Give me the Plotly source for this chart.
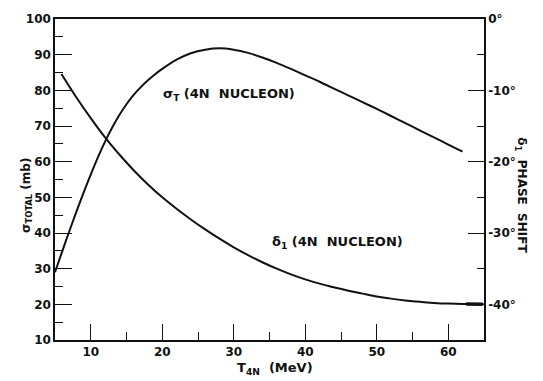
import plotly.graph_objects as go

# sigma_T (left axis, mb) vs T_4N (MeV)
t_sigma = [5, 6, 7, 8, 9, 10, 11, 12, 13, 14, 15, 16, 17, 18, 19, 20, 22, 24, 26, 28,
           30, 32, 34, 36, 38, 40, 42, 44, 46, 48, 50, 52, 54, 56, 58, 60, 62]
sigma_vals = [29.0, 34.8, 40.5, 46.0, 51.3, 56.4, 61.2, 65.6, 69.6, 73.1, 76.1, 78.7, 80.9,
              82.8, 84.5, 86.0, 88.6, 90.4, 91.4, 91.8, 91.4, 90.5, 89.2, 87.7, 86.0, 84.2,
              82.4, 80.5, 78.6, 76.7, 74.8, 72.8, 70.8, 68.8, 66.8, 64.8, 62.8]

# delta_1 phase shift (right axis, degrees)
t_delta = [5.9, 8, 10, 12, 14, 16, 18, 20, 22, 24, 26, 28, 30, 32, 34, 36, 38, 40, 42, 44,
           46, 48, 50, 52, 54, 56, 58, 60, 62, 65]
delta_vals = [-7.7, -11.0, -13.9, -16.6, -19.0, -21.2, -23.2, -25.0, -26.6, -28.1, -29.5,
              -30.8, -32.0, -33.1, -34.1, -35.0, -35.8, -36.5, -37.1, -37.6, -38.1, -38.5,
              -38.9, -39.2, -39.45, -39.65, -39.8, -39.9, -39.95, -40.0]

# short heavy stroke at the end of the delta curve
t_delta_end = [62.5, 64.8]
delta_end = [-39.95, -40.0]

x_major = [10, 20, 30, 40, 50, 60]
x_minor = [15, 25, 35, 45, 55]
yl_major = [10, 20, 30, 40, 50, 60, 70, 80, 90, 100]
yl_minor = [15, 25, 35, 45, 55, 65, 75, 85, 95]
yr_major = [0, -10, -20, -30, -40]
yr_labels = ["0°", "-10°", "-20°", "-30°", "-40°"]
yr_minor = [-5, -15, -25, -35]

FONT = "DejaVu Sans"
BLACK = "#111111"

fig = go.Figure()
fig.add_trace(go.Scatter(x=t_sigma, y=sigma_vals, mode="lines",
                         line=dict(color=BLACK, width=2, shape="spline", smoothing=0.8),
                         yaxis="y"))
fig.add_trace(go.Scatter(x=t_delta, y=delta_vals, mode="lines",
                         line=dict(color=BLACK, width=2, shape="spline", smoothing=0.8),
                         yaxis="y2"))
fig.add_trace(go.Scatter(x=t_delta_end, y=delta_end, mode="lines",
                         line=dict(color=BLACK, width=3.5), yaxis="y2"))

tick_font = dict(size=12, family=FONT, weight="bold", color=BLACK)

fig.update_layout(
    width=543, height=381,
    margin=dict(l=55, r=59, t=16, b=41),
    paper_bgcolor="white", plot_bgcolor="white",
    showlegend=False,
    font=dict(family=FONT, size=12, color=BLACK),
    xaxis=dict(range=[5, 65], tickmode="array", tickvals=x_major,
               ticks="inside", ticklen=16, tickwidth=1.3, tickcolor=BLACK,
               minor=dict(tickmode="array", tickvals=x_minor, ticks="inside",
                          ticklen=8, tickwidth=1.3, tickcolor=BLACK),
               showgrid=False, zeroline=False, showline=True, linecolor=BLACK,
               linewidth=1.5, mirror=True, tickfont=tick_font),
    yaxis=dict(range=[10, 100], tickmode="array", tickvals=yl_major,
               ticks="inside", ticklen=17, tickwidth=1.3, tickcolor=BLACK,
               minor=dict(tickmode="array", tickvals=yl_minor, ticks="inside",
                          ticklen=8, tickwidth=1.3, tickcolor=BLACK),
               showgrid=False, zeroline=False, showline=True, linecolor=BLACK,
               linewidth=1.5, tickfont=tick_font),
    yaxis2=dict(range=[-45, 0], overlaying="y", side="right", tickmode="array",
                tickvals=yr_major, ticktext=yr_labels,
                ticks="inside", ticklen=16, tickwidth=1.3, tickcolor=BLACK,
                minor=dict(tickmode="array", tickvals=yr_minor, ticks="inside",
                           ticklen=7, tickwidth=1.3, tickcolor=BLACK),
                showgrid=False, zeroline=False, showline=True, linecolor=BLACK,
                linewidth=1.5, tickfont=tick_font),
)

lab_font = dict(size=13, family=FONT, weight="bold", color=BLACK)
side_font = dict(size=12, family=FONT, weight="bold", color=BLACK)
fig.add_annotation(text="σ<sub>T</sub> (4N  NUCLEON)", x=29.3, y=78.9, xref="x", yref="y",
                   showarrow=False, font=lab_font)
fig.add_annotation(text="δ<sub>1</sub> (4N  NUCLEON)", x=44.5, y=37.2, xref="x", yref="y",
                   showarrow=False, font=lab_font)
fig.add_annotation(text="σ<sub>TOTAL</sub> (mb)", x=-0.09, y=0.45, xref="paper", yref="paper",
                   textangle=-90, showarrow=False, font=side_font)
fig.add_annotation(text="δ<sub>1</sub>  PHASE  SHIFT", x=1.11, y=0.45, xref="paper", yref="paper",
                   textangle=90, showarrow=False, font=side_font)
fig.add_annotation(text="T<sub>4N</sub>  (MeV)", x=0.513, y=-0.09, xref="paper", yref="paper",
                   yanchor="middle", showarrow=False, font=lab_font)

fig.write_html("out.html")
